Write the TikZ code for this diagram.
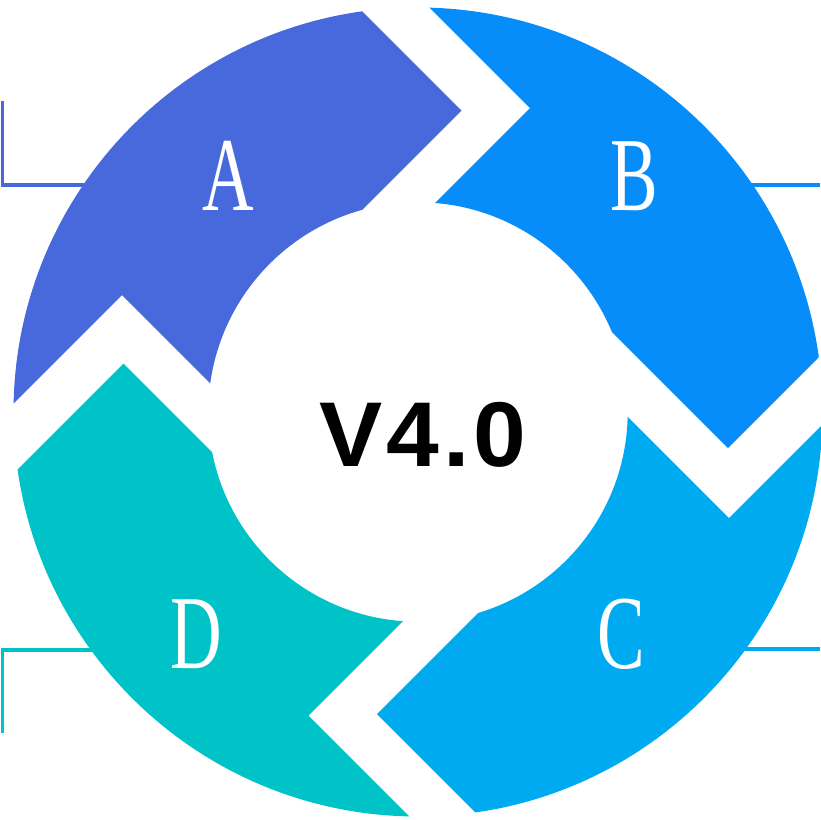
\documentclass[tikz,border=0pt]{standalone}
\usepackage{fontspec}
\setmainfont{Liberation Serif}
\newfontfamily\vfont[LetterSpace=4]{Liberation Sans}
\definecolor{colA}{RGB}{72,105,220}
\definecolor{colB}{RGB}{6,141,249}
\definecolor{colC}{RGB}{0,170,240}
\definecolor{colD}{RGB}{0,195,200}
\begin{document}
\begin{tikzpicture}[x=1pt,y=-1pt,
  leader/.style={line width=3.2pt},
  letter/.style={text=white,inner sep=0pt,font=\fontsize{105}{105}\selectfont},
  centre/.style={text=black,inner sep=0pt,font=\vfont\bfseries\fontsize{92}{92}\selectfont}]
\useasboundingbox (0,0) rectangle (820,820);
\coordinate (O) at (418,412);
% leader lines (under the pieces)
\coordinate (a1) at (2.5,101); \coordinate (a2) at (2.5,185); \coordinate (a3) at (120,185);
\coordinate (b1) at (700,185); \coordinate (b2) at (820,185);
\coordinate (c1) at (700,649); \coordinate (c2) at (820,649);
\coordinate (d1) at (2.5,733); \coordinate (d2) at (2.5,650); \coordinate (d3) at (120,650);
\draw[leader,colA] (a1) -- (a2) -- (a3);
\draw[leader,colB] (b1) -- (b2);
\draw[leader,colC] (c1) -- (c2);
\draw[leader,colD] (d1) -- (d2) -- (d3);
% pieces
\begin{scope}
\clip (O) -- (300,473) -- (122,295) -- (-200,617) -- (-200,-200) -- (151,-200) -- (461.5,110.5) -- (350,222) -- cycle;
\fill[colA, even odd rule] (O) circle[radius=404.5pt] (O) circle[radius=209.7pt];
\end{scope}
\begin{scope}
\clip (O) -- (400,238) -- (530,108) -- (222,-200) -- (1100,-200) -- (1100,76) -- (728,448) -- (560,280) -- cycle;
\fill[colB, even odd rule] (O) circle[radius=404.5pt] (O) circle[radius=209.7pt];
\end{scope}
\begin{scope}
\clip (O) -- (560,349) -- (729,518) -- (1100,147) -- (1100,1100) -- (763,1100) -- (377,714) -- (500,591) -- cycle;
\fill[colC, even odd rule] (O) circle[radius=404.5pt] (O) circle[radius=209.7pt];
\end{scope}
\begin{scope}
\clip (O) -- (430,594) -- (308.5,715.5) -- (693,1100) -- (-200,1100) -- (-200,687) -- (123.5,363.5) -- (250,490) -- cycle;
\fill[colD, even odd rule] (O) circle[radius=404.5pt] (O) circle[radius=209.7pt];
\end{scope}
% labels
\node[letter] (lblA) at (228.5,175.5) {\scalebox{0.68}[1]{A}};
\node[letter] (lblB) at (634,176.5) {\scalebox{0.68}[1]{B}};
\node[letter] (lblC) at (621.5,634.5) {\scalebox{0.68}[1]{C}};
\node[letter] (lblD) at (196,634) {\scalebox{0.68}[1]{D}};
\node[centre] (ver) at (423,434.5) {\scalebox{1.03}[1]{V4.0}};
\end{tikzpicture}
\end{document}
